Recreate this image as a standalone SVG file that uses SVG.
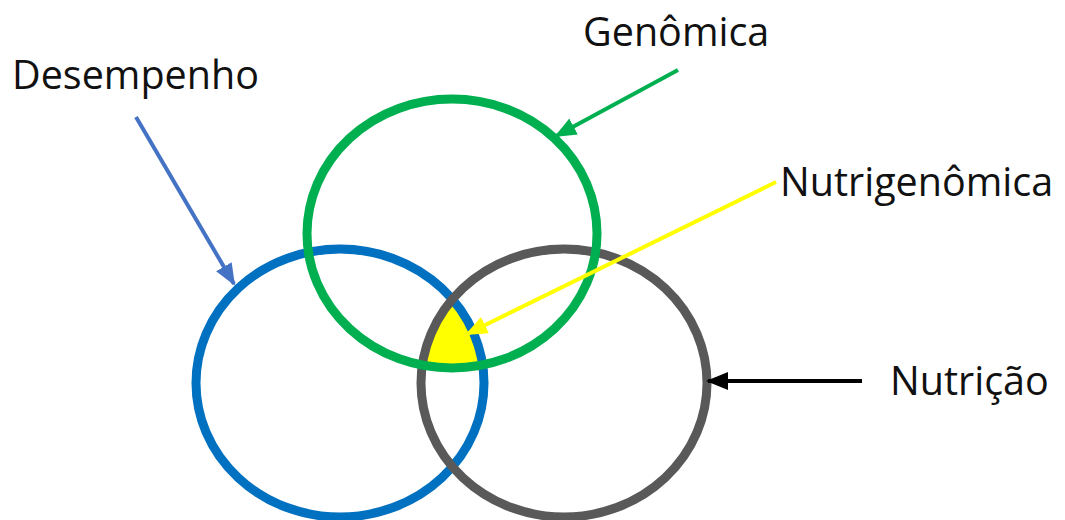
<svg xmlns="http://www.w3.org/2000/svg" width="1065" height="520" viewBox="0 0 1065 520">
<style>
.ring{fill:none;stroke-width:9}
.lbl{font-family:"Open Sans","Liberation Sans",sans-serif;font-size:39.5px;fill:#111}
.arr{stroke-width:4;fill:none}
</style>
<defs>
<clipPath id="cBlue"><ellipse cx="340" cy="383" rx="144" ry="134"/></clipPath>
<clipPath id="cGray"><ellipse cx="564" cy="383" rx="143" ry="134"/></clipPath>
<marker id="mBlue" markerUnits="userSpaceOnUse" markerWidth="22" markerHeight="18" refX="20" refY="9" orient="auto"><path d="M0,0 L22,9 L0,18 Z" fill="#4472C4"/></marker>
<marker id="mGreen" markerUnits="userSpaceOnUse" markerWidth="22" markerHeight="18" refX="20" refY="9" orient="auto"><path d="M0,0 L22,9 L0,18 Z" fill="#00B050"/></marker>
<marker id="mYellow" markerUnits="userSpaceOnUse" markerWidth="22" markerHeight="18" refX="20" refY="9" orient="auto"><path d="M0,0 L22,9 L0,18 Z" fill="#FFFF00"/></marker>
<marker id="mBlack" markerUnits="userSpaceOnUse" markerWidth="22" markerHeight="18" refX="20" refY="9" orient="auto"><path d="M0,0 L22,9 L0,18 Z" fill="#000"/></marker>
</defs>
<g id="nutrigenomica-area" clip-path="url(#cGray)">
<g clip-path="url(#cBlue)"><ellipse cx="452" cy="233.5" rx="145" ry="134.5" fill="#FFFF00"/></g>
</g>
<g id="desempenho"><ellipse class="ring" cx="340" cy="383" rx="144" ry="134" stroke="#0070C0"/><text class="lbl" x="12" y="89">Desempenho</text></g>
<g id="nutricao"><ellipse class="ring" cx="564" cy="383" rx="143" ry="134" stroke="#595959"/><text class="lbl" x="890" y="395">Nutrição</text></g>
<g id="genomica"><ellipse class="ring" cx="452" cy="233.5" rx="145" ry="134.5" stroke="#00B050"/><text class="lbl" x="583" y="46">Genômica</text></g>
<g id="nutrigenomica"><text class="lbl" x="780" y="196">Nutrigenômica</text></g>
<g id="connectors">
<line class="arr" x1="136" y1="117" x2="234" y2="284" stroke="#4472C4" marker-end="url(#mBlue)"/>
<line class="arr" x1="678" y1="70" x2="556" y2="136" stroke="#00B050" marker-end="url(#mGreen)"/>
<line class="arr" x1="776" y1="182" x2="467" y2="334" stroke="#FFFF00" marker-end="url(#mYellow)"/>
<line class="arr" x1="862" y1="381" x2="708" y2="381" stroke="#000" marker-end="url(#mBlack)"/>
</g>
</svg>
